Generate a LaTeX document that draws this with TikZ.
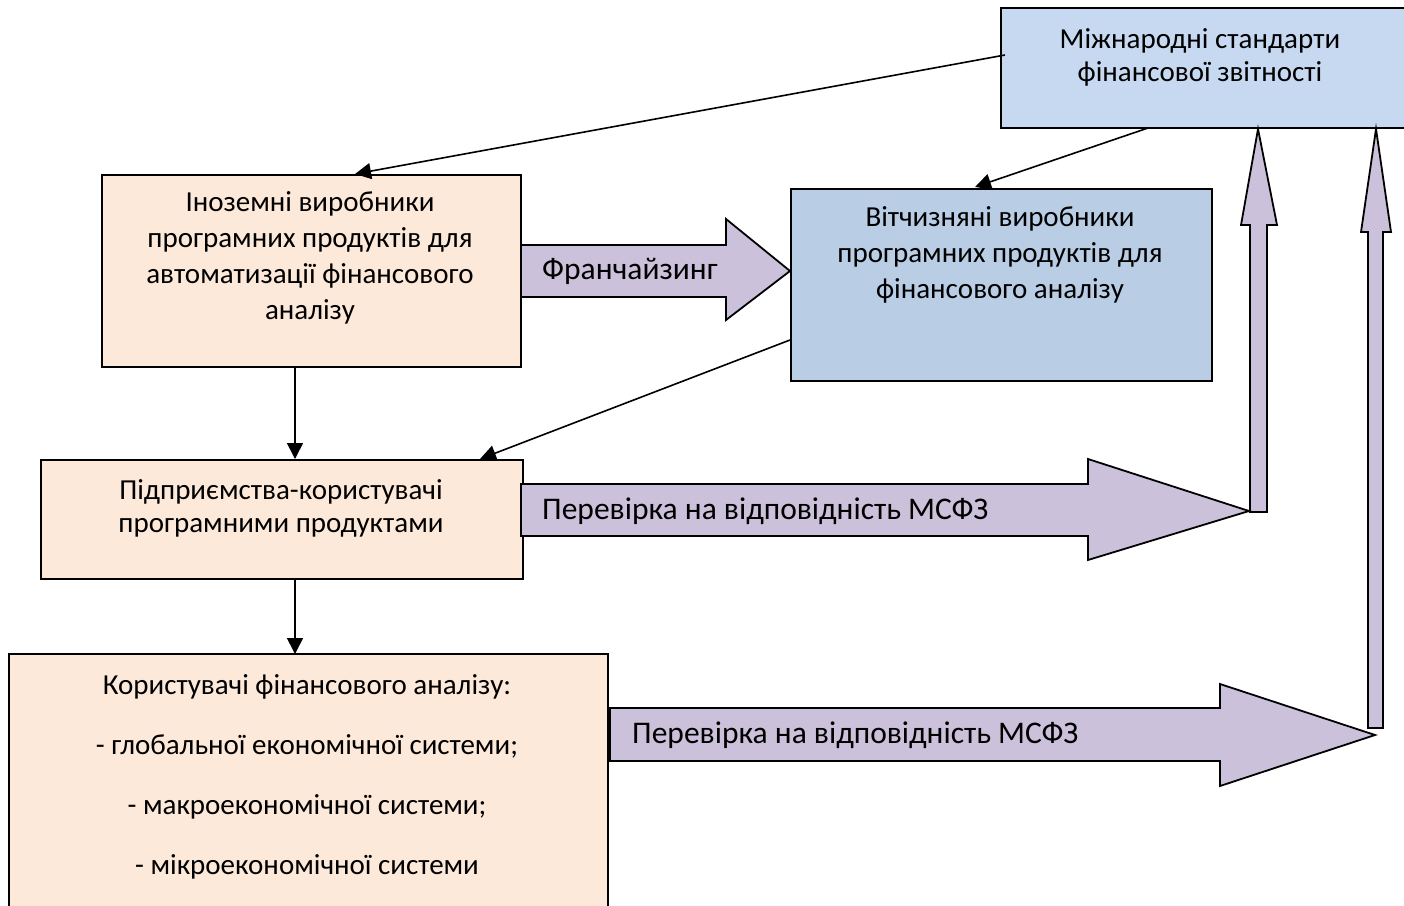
\documentclass[tikz,border=0pt]{standalone}
\usepackage{fontspec}
\setmainfont{Carlito}
\usetikzlibrary{arrows.meta}
\definecolor{peach}{HTML}{FDE9D9}
\definecolor{ltblue}{HTML}{C6D9F1}
\definecolor{midblue}{HTML}{B9CDE5}
\definecolor{lilac}{HTML}{CCC1DA}
\tikzset{
  box/.style={draw=black, line width=1.8pt, inner sep=0pt},
  txt/.style={align=center, inner sep=0pt, font=\fontsize{29}{36}\selectfont},
  atxt/.style={anchor=west, inner sep=0pt, font=\fontsize{31.5}{36}\selectfont},
  blk/.style={draw=black, fill=lilac, line width=1.8pt, line join=miter},
  conn/.style={draw=black, line width=1.6pt, -{Triangle[length=16pt,width=16pt]}}
}
\begin{document}
\begin{tikzpicture}[x=1pt,y=-1pt]
\useasboundingbox (0,0) rectangle (1404,905);
\clip (0,0) rectangle (1404,905);
% boxes
\path[box, fill=ltblue] (1001,8) rectangle (1420,128);
\coordinate (msA) at (1005,55);
\coordinate (msB) at (1148,128);
\node[box, fill=peach, minimum width=419pt, minimum height=192pt, anchor=north west] (ino) at (101,174) {};
\node[box, fill=midblue, minimum width=421pt, minimum height=192pt, anchor=north west] (vit) at (790,188) {};
\node[box, fill=peach, minimum width=482pt, minimum height=119pt, anchor=north west] (pid) at (40,459) {};
\path[box, fill=peach] (9,654) rectangle (608,920);
\coordinate (kor) at (295,654);
% texts
\node[txt, font=\fontsize{29}{33}\selectfont] at (1200,57) {Міжнародні стандарти\\фінансової звітності};
\node[txt] at (310,258) {Іноземні виробники\\програмних продуктів для\\автоматизації фінансового\\аналізу};
\node[txt] at (1000,255) {Вітчизняні виробники\\програмних продуктів для\\фінансового аналізу};
\node[txt, font=\fontsize{29}{33}\selectfont] at (281,508) {Підприємства-користувачі\\програмними продуктами};
\node[txt, font=\fontsize{29}{60}\selectfont] at (307,777) {Користувачі фінансового аналізу:\\- глобальної економічної системи;\\- макроекономічної системи;\\- мікроекономічної системи};
% connectors
\draw[conn] (msA) -- (355,174);
\draw[conn] (msB) -- (975,187);
\draw[conn] (790,340) -- (480,459);
\draw[conn] (ino.south -| 295,0) -- (pid.north -| 295,0);
\draw[conn] (pid.south -| 295,0) -- (kor);
% block arrows
\draw[blk] (521,245) -- (726,245) -- (726,219) -- (790,271) -- (726,320) -- (726,297) -- (521,297) -- cycle;
\node[atxt] at (542,271) {Франчайзинг};
\draw[blk] (1250,512) -- (1250,225) -- (1241,225) -- (1258,129) -- (1277,225) -- (1267,225) -- (1267,512) -- cycle;
\draw[blk] (521,484) -- (1088,484) -- (1088,459) -- (1249,511) -- (1088,560) -- (1088,536) -- (521,536) -- cycle;
\node[atxt] at (542,511) {Перевірка на відповідність МСФЗ};
\draw[blk] (1368,728) -- (1368,232) -- (1361,232) -- (1376,129) -- (1391,232) -- (1383,232) -- (1383,728) -- cycle;
\draw[blk] (610,708) -- (1220,708) -- (1220,684) -- (1375,735) -- (1220,786) -- (1220,761) -- (610,761) -- cycle;
\node[atxt] at (632,735) {Перевірка на відповідність МСФЗ};
\end{tikzpicture}
\end{document}
